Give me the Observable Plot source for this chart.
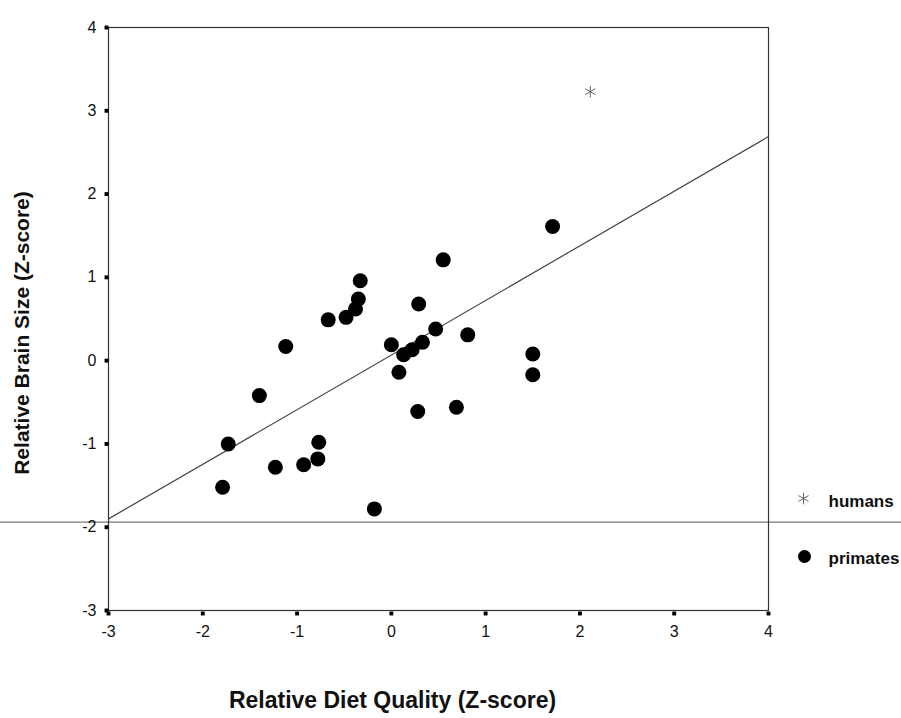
<!DOCTYPE html>
<html>
<head>
<meta charset="utf-8">
<script src="https://cdn.jsdelivr.net/npm/d3@7"></script>
<script src="https://cdn.jsdelivr.net/npm/@observablehq/plot@0.6"></script>
<style>
  html, body { margin: 0; padding: 0; background: #fff; }
  #chart { width: 901px; height: 718px; }
</style>
</head>
<body>
<div id="chart"></div>
<script>
// Primates: relative diet quality (x) vs relative brain size (y), Z-scores
const primateX = [0.55, -0.33, -0.35, -0.38, -0.48, -0.67, -1.12, 0.29, 0.00, 0.13,
                  0.22, 0.33, 0.47, 0.81, 0.08, -1.40, 0.28, 0.69, -1.73, -0.77,
                  -0.78, -0.93, -1.23, -1.79, -0.18, 1.50, 1.50, 1.71];
const primateY = [1.21, 0.96, 0.74, 0.62, 0.52, 0.49, 0.17, 0.68, 0.19, 0.07,
                  0.13, 0.22, 0.38, 0.31, -0.14, -0.42, -0.61, -0.56, -1.00, -0.98,
                  -1.18, -1.25, -1.28, -1.52, -1.78, 0.08, -0.17, 1.61];
const humanX = [2.11];
const humanY = [3.23];
// Fitted line end points
const fitX = [-3, 4];
const fitY = [-1.90, 2.69];
// Horizontal scan line across the page
const scanLineY = [-1.94];
const xTicks = [-3, -2, -1, 0, 1, 2, 3, 4];
const yTicks = [-3, -2, -1, 0, 1, 2, 3, 4];
const xLabel = "Relative Diet Quality (Z-score)";
const yLabel = "Relative Brain Size (Z-score)";
const legendLabels = ["humans", "primates"];

const primates = primateX.map((x, i) => ({x, y: primateY[i]}));
const humans = humanX.map((x, i) => ({x, y: humanY[i]}));
const fit = fitX.map((x, i) => ({x, y: fitY[i]}));

const font = "'Liberation Sans', Arial, Helvetica, sans-serif";

const chart = Plot.plot({
  width: 901,
  height: 718,
  marginLeft: 108,
  marginRight: 133,
  marginTop: 27,
  marginBottom: 108,
  style: {fontFamily: font, background: "#fff", color: "#111"},
  x: {domain: [-3, 4], axis: null},
  y: {domain: [-3, 4], axis: null},
  marks: [
    Plot.ruleY(scanLineY, {stroke: "#777", strokeWidth: 1.2, insetLeft: -108, insetRight: -133}),
    Plot.frame({stroke: "#333", strokeWidth: 1.2}),
    Plot.line(fit, {x: "x", y: "y", stroke: "#444", strokeWidth: 1.2}),
    // tick labels
    Plot.text(xTicks, {x: d => d, y: -3, text: d => String(d), dy: 21, fontSize: 16, fill: "#111"}),
    Plot.text(yTicks, {x: -3, y: d => d, text: d => String(d), textAnchor: "end", dx: -12, fontSize: 16, fill: "#111"}),
    // tick marks (small squares)
    Plot.dot(xTicks, {x: d => d, y: -3, symbol: "square", r: 2.2, fill: "#000", dy: 3}),
    Plot.dot(yTicks, {x: -3, y: d => d, symbol: "square", r: 2.2, fill: "#000", dx: -2}),
    Plot.dot(primates, {x: "x", y: "y", r: 7.5, fill: "#000"}),
    Plot.dot(humans, {x: "x", y: "y", symbol: "asterisk", r: 5.5, stroke: "#666", strokeWidth: 1}),
    // legend
    Plot.dot([legendLabels[0]], {frameAnchor: "bottom-right", symbol: "asterisk", r: 5.5, stroke: "#666", strokeWidth: 1, dx: 35, dy: -112}),
    Plot.dot([legendLabels[1]], {frameAnchor: "bottom-right", r: 6.5, fill: "#000", dx: 36, dy: -54}),
    Plot.text([legendLabels[0]], {frameAnchor: "bottom-right", text: d => d, textAnchor: "start", lineAnchor: "middle", fontSize: 17, fontWeight: "bold", fill: "#111", dx: 60, dy: -109}),
    Plot.text([legendLabels[1]], {frameAnchor: "bottom-right", text: d => d, textAnchor: "start", lineAnchor: "middle", fontSize: 17, fontWeight: "bold", fill: "#111", dx: 60, dy: -52}),
    // axis titles
    Plot.text([xLabel], {frameAnchor: "bottom", text: d => d, textAnchor: "middle", lineAnchor: "middle", fontSize: 23, fontWeight: "bold", fill: "#111", dx: -46, dy: 90}),
    Plot.text([yLabel], {frameAnchor: "left", text: d => d, rotate: -90, textAnchor: "middle", lineAnchor: "middle", fontSize: 21, fontWeight: "bold", fill: "#111", dx: -86, dy: 14})
  ]
});
document.getElementById("chart").appendChild(chart);
</script>
</body>
</html>
